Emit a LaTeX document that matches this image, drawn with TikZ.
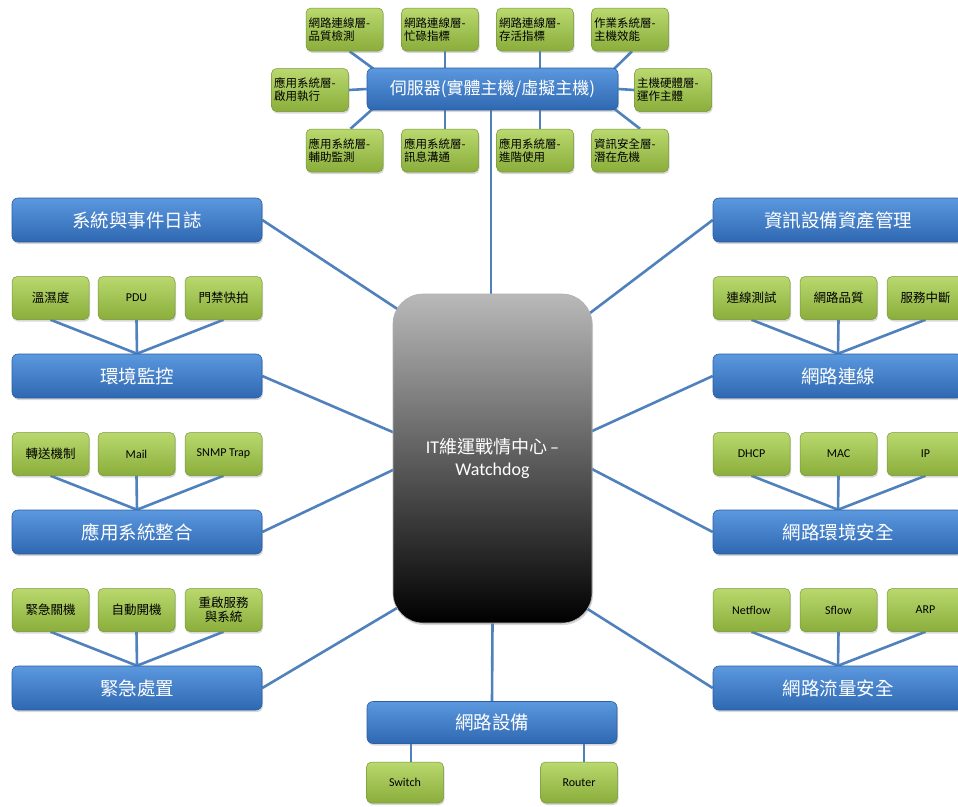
\documentclass[tikz,border=0pt]{standalone}
\usepackage{fontspec}
\setmainfont{Noto Sans CJK TC}
\newfontfamily\lat{Carlito}
\usetikzlibrary{shadows,backgrounds,calc}
\definecolor{conn}{HTML}{4F81BD}
\definecolor{bluetop}{HTML}{5B98DE}
\definecolor{bluebot}{HTML}{2E68B2}
\definecolor{blueedge}{HTML}{2B5FA3}
\definecolor{grntop}{HTML}{B9D86E}
\definecolor{grnbot}{HTML}{8AAD3B}
\definecolor{grnedge}{HTML}{76963A}
\tikzset{
  bluebox/.style={rounded corners=6pt, draw=blueedge, line width=0.6pt,
    top color=bluetop, bottom color=bluebot, minimum width=250pt, minimum height=44pt,
    text=white, font=\fontsize{18.5}{21}\selectfont,
    drop shadow={opacity=0.3, shadow xshift=1pt, shadow yshift=-2pt}},
  grnbox/.style={rounded corners=5pt, draw=grnedge, line width=0.5pt,
    top color=grntop, bottom color=grnbot, minimum width=77pt, minimum height=43pt,
    text=black, font=\fontsize{12.5}{14.5}\selectfont, align=center, inner sep=2pt,
    drop shadow={opacity=0.3, shadow xshift=1pt, shadow yshift=-2pt}},
  topbox/.style={grnbox, font=\fontsize{11.5}{13}\selectfont, align=left, text width=72pt},
  latbox/.style={grnbox, font=\lat\fontsize{12}{14}\selectfont},
  hubbox/.style={rounded corners=30pt, draw=gray!60, line width=0.6pt,
    top color={rgb,255:red,185;green,185;blue,185}, bottom color=black,
    minimum width=199pt, minimum height=329pt, text=white, align=center,
    font=\fontsize{18}{22}\selectfont,
    drop shadow={opacity=0.3, shadow xshift=1pt, shadow yshift=-2pt}},
  link/.style={draw=conn, line width=2.6pt}
}
\begin{document}
\begin{tikzpicture}[x=1pt, y=-1pt]
\clip (0,0) rectangle (958,806);
% server cluster
\node[bluebox, minimum width=251pt, minimum height=42pt, font=\fontsize{17}{20}\selectfont] (server) at (492.5,89) {伺服器(實體主機/虛擬主機)};
\node[topbox] (g1) at (344.5,29.5) {網路連線層-\\品質檢測};
\node[topbox] (g2) at (440,29.5) {網路連線層-\\忙碌指標};
\node[topbox] (g3) at (535,29.5) {網路連線層-\\存活指標};
\node[topbox] (g4) at (630,29.5) {作業系統層-\\主機效能};
\node[topbox] (gl) at (310,90) {應用系統層-\\啟用執行};
\node[topbox] (gr) at (673,90) {主機硬體層-\\運作主體};
\node[topbox] (b1) at (344.5,150.5) {應用系統層-\\輔助監測};
\node[topbox] (b2) at (440,150.5) {應用系統層-\\訊息溝通};
\node[topbox] (b3) at (535,150.5) {應用系統層-\\進階使用};
\node[topbox] (b4) at (630,150.5) {資訊安全層-\\潛在危機};
% hub
\node[hubbox] (hub) at (492.5,458.5) {{\lat IT}維運戰情中心{\lat\,–}\\{\lat Watchdog}};
% left column
\node[bluebox] (log) at (137,220) {系統與事件日誌};
\node[bluebox] (env) at (137,376) {環境監控};
\node[grnbox] (e1) at (50.5,298) {溫濕度};
\node[latbox] (e2) at (136.5,298) {PDU};
\node[grnbox] (e3) at (223.5,298) {門禁快拍};
\node[bluebox] (app) at (137,532) {應用系統整合};
\node[grnbox] (a1) at (50.5,454) {轉送機制};
\node[latbox] (a2) at (136.5,454) {Mail};
\node[latbox] (a3) at (223.5,454) {SNMP Trap};
\node[bluebox] (emer) at (137,688) {緊急處置};
\node[grnbox] (m1) at (50.5,610) {緊急關機};
\node[grnbox] (m2) at (136.5,610) {自動開機};
\node[grnbox] (m3) at (223.5,610) {重啟服務\\與系統};
% right column
\node[bluebox] (asset) at (838,220) {資訊設備資產管理};
\node[bluebox] (netconn) at (838,376) {網路連線};
\node[grnbox] (c1) at (751.5,298) {連線測試};
\node[grnbox] (c2) at (838.5,298) {網路品質};
\node[grnbox] (c3) at (925.5,298) {服務中斷};
\node[bluebox] (netsec) at (838,532) {網路環境安全};
\node[latbox] (s1) at (751.5,454) {DHCP};
\node[latbox] (s2) at (838.5,454) {MAC};
\node[latbox] (s3) at (925.5,454) {IP};
\node[bluebox] (traffic) at (838,688) {網路流量安全};
\node[latbox] (f1) at (751.5,610) {Netflow};
\node[latbox] (f2) at (838.5,610) {Sflow};
\node[latbox] (f3) at (925.5,610) {ARP};
% bottom
\node[bluebox, minimum height=42pt] (netdev) at (492,722.5) {網路設備};
\node[latbox, minimum height=41pt] (sw) at (405,782.5) {Switch};
\node[latbox, minimum height=41pt] (rt) at (579,782.5) {Router};
\begin{pgfonlayer}{background}
\fill[white] (0,0) rectangle (958,806);
% server links
\draw[link] ([xshift=5pt]g1.south) -- ([shift={(8,2)}]server.north west);
\draw[link] ([xshift=5pt]g2.south) -- ([xshift=-47.5pt]server.north);
\draw[link] ([xshift=5pt]g3.south) -- ([xshift=47.5pt]server.north);
\draw[link] ([xshift=2pt]g4.south) -- ([shift={(-5,2)}]server.north east);
\draw[link] (gl.east) -- (server.west);
\draw[link] (server.east) -- (gr.west);
\draw[link] ([xshift=6pt]b1.north) -- ([shift={(10,-5)}]server.south west);
\draw[link] ([xshift=5pt]b2.north) -- ([xshift=-47.5pt]server.south);
\draw[link] ([xshift=5pt]b3.north) -- ([xshift=47.5pt]server.south);
\draw[link] ([xshift=10pt]b4.north) -- ([shift={(-6,-3)}]server.south east);
\draw[link] ([xshift=-1.5pt]server.south) -- ([xshift=-1.5pt]hub.north);
% hub links
\draw[link] (log.east) -- ([shift={(-93.5,-148.5)}]hub.center);
\draw[link] (env.east) -- ([shift={(-97.5,-25.5)}]hub.center);
\draw[link] (app.east) -- ([shift={(-97.5,10.5)}]hub.center);
\draw[link] (emer.east) -- ([shift={(-95.5,149.5)}]hub.center);
\draw[link] (asset.west) -- ([shift={(97.5,-145.5)}]hub.center);
\draw[link] (netconn.west) -- ([shift={(97.5,-26.5)}]hub.center);
\draw[link] (netsec.west) -- ([shift={(97.5,9.5)}]hub.center);
\draw[link] (traffic.west) -- ([shift={(93.5,149.5)}]hub.center);
\draw[link] (hub.south) -- (netdev.north);
% sub links
\foreach \g/\b in {e1/env,e2/env,e3/env,a1/app,a2/app,a3/app,m1/emer,m2/emer,m3/emer,
  c1/netconn,c2/netconn,c3/netconn,s1/netsec,s2/netsec,s3/netsec,f1/traffic,f2/traffic,f3/traffic}
  \draw[link] (\g.south) -- (\b.north);
\draw[link] ([xshift=6pt]sw.north) -- ([xshift=-81pt]netdev.south);
\draw[link] ([xshift=5pt]rt.north) -- ([xshift=92pt]netdev.south);
\end{pgfonlayer}
\end{tikzpicture}
\end{document}
